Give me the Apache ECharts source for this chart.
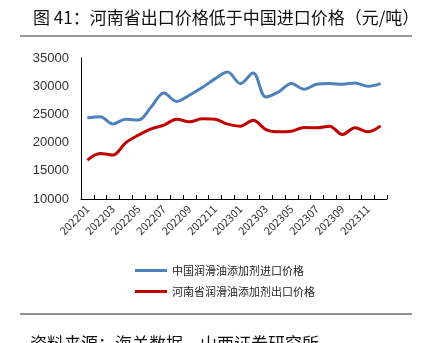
<!DOCTYPE html>
<html><head><meta charset="utf-8">
<script src="https://cdn.jsdelivr.net/npm/echarts@6/dist/echarts.min.js"></script>
<style>html,body{margin:0;padding:0;background:#fff}#c{width:425px;height:343px}</style>
</head><body><div id="c"></div>
<script>
const categories = ['202201','202202','202203','202204','202205','202206','202207','202208','202209','202210','202211','202212',
  '202301','202302','202303','202304','202305','202306','202307','202308','202309','202310','202311','202312'];
const chinaImport = [24400,24600,23300,24150,24000,26300,28800,27300,28400,29750,31300,32500,
  30460,32350,28100,29000,30460,29460,30340,30460,30340,30580,29990,30460];
const henanExport = [16900,18080,17780,19960,21320,22440,23090,24150,23680,24210,24120,23270,
  22910,23970,22320,21910,22030,22680,22620,22910,21440,22620,21910,22970];
const seriesNames = ['中国润滑油添加剂进口价格','河南省润滑油添加剂出口价格'];
const titleText = '图 41：河南省出口价格低于中国进口价格（元/吨）';
const sourceText = '资料来源：海关数据，山西证券研究所';

const chart = echarts.init(document.getElementById('c'));
const font = '"Noto Sans CJK SC", "Liberation Sans", sans-serif';
chart.setOption({
  animation: false,
  textStyle: {fontFamily: font},
  title: {text: titleText, left: 28, top: 4, textStyle: {fontSize: 17, fontWeight: 'normal', color: '#111', fontFamily: font}},
  graphic: [
    {type: 'line', shape: {x1: 20, y1: 36, x2: 412, y2: 36}, style: {stroke: '#999', lineWidth: 2}},
    {type: 'line', shape: {x1: 20, y1: 314, x2: 412, y2: 314}, style: {stroke: '#222', lineWidth: 1}},
    {type: 'text', left: 30, top: 335, style: {text: sourceText, fontSize: 17, fill: '#111', fontFamily: font}}
  ],
  legend: {
    orient: 'vertical', left: 130, top: 260, itemGap: 10, itemWidth: 32, itemHeight: 3,
    icon: 'rect',
    textStyle: {fontSize: 11, color: '#222', fontFamily: font},
    data: seriesNames
  },
  grid: {left: 81, right: 38, top: 58, bottom: 144},
  xAxis: {
    type: 'category', data: categories, boundaryGap: true,
    axisLine: {lineStyle: {color: '#000', width: 1}},
    axisTick: {show: true, inside: true, length: 4, interval: 0, lineStyle: {color: '#000'}},
    axisLabel: {interval: 1, rotate: 45, fontSize: 11, color: '#333', margin: 8, fontFamily: font}
  },
  yAxis: {
    type: 'value', min: 10000, max: 35000, interval: 5000,
    axisLine: {show: true, lineStyle: {color: '#000', width: 1}},
    axisTick: {show: false},
    splitLine: {show: false},
    axisLabel: {fontSize: 13, color: '#333', margin: 12, fontFamily: '"Liberation Sans", sans-serif',
      formatter: v => String(v)}
  },
  series: [
    {name: seriesNames[0], type: 'line', data: chinaImport, smooth: 0.35, symbol: 'none',
     lineStyle: {color: '#4F81BD', width: 3}, itemStyle: {color: '#4F81BD'}},
    {name: seriesNames[1], type: 'line', data: henanExport, smooth: 0.35, symbol: 'none',
     lineStyle: {color: '#C00000', width: 3}, itemStyle: {color: '#C00000'}}
  ]
});
</script></body></html>
